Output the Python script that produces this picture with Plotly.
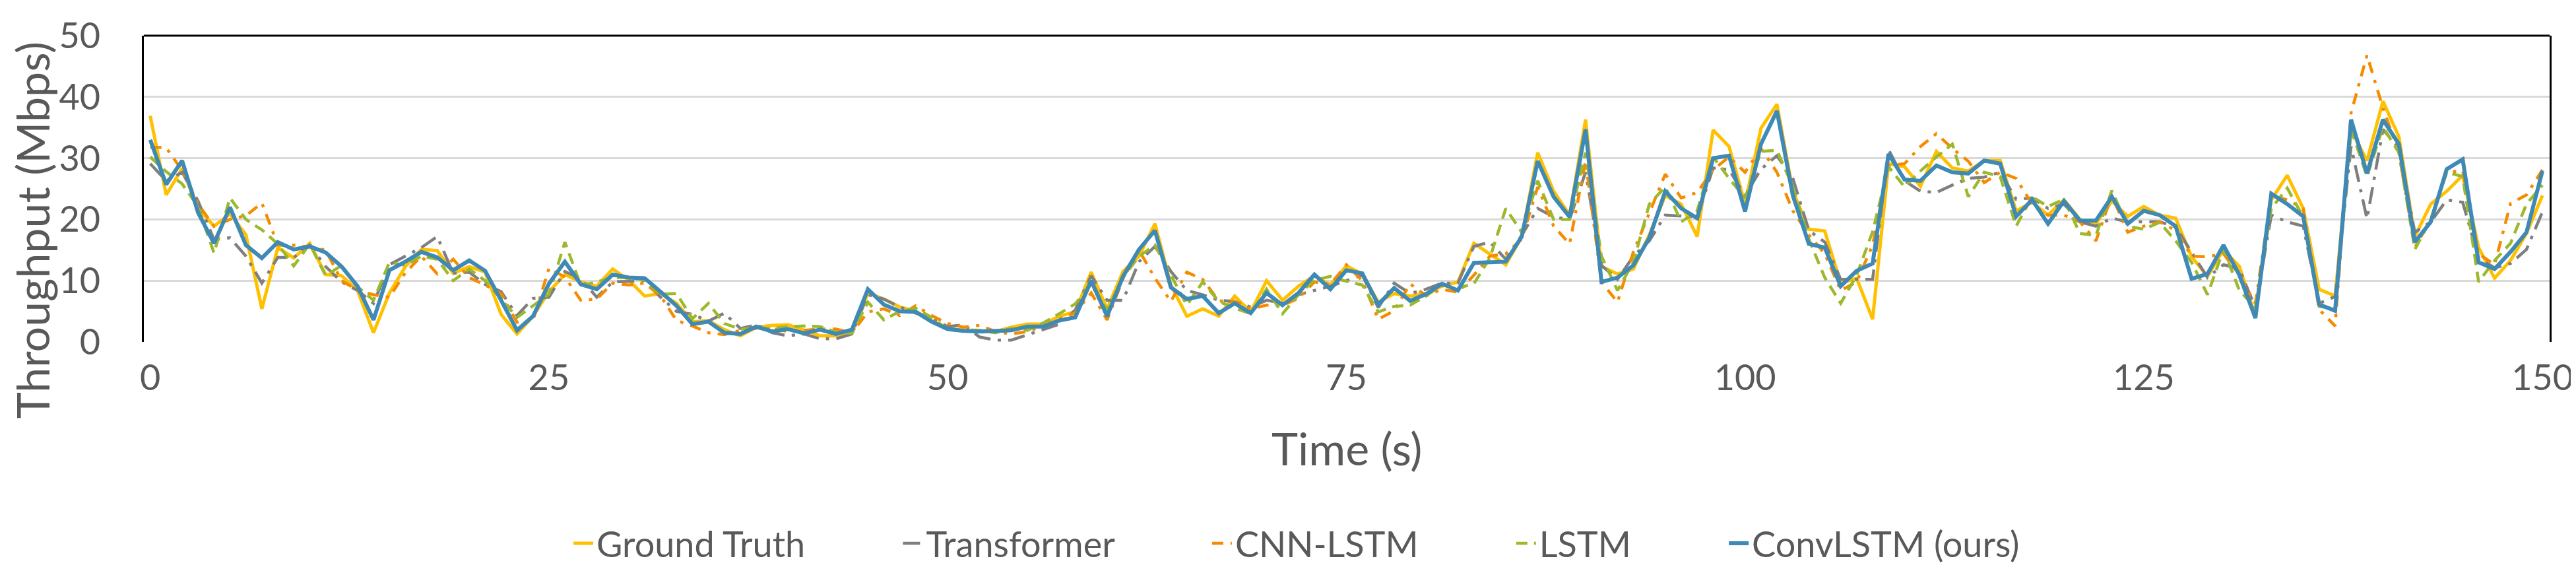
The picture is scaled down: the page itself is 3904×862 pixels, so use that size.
import plotly.graph_objects as go

time_s = list(range(151))

ground_truth = [
    36.9, 24.0, 28.3, 21.8, 18.9, 20.9, 17.5, 5.4, 15.4, 13.7,
    16.1, 11.0, 10.8, 8.4, 1.5, 8.0, 12.3, 15.1, 14.9, 11.2,
    12.3, 11.4, 4.5, 1.3, 4.2, 8.2, 11.0, 9.8, 9.1, 11.9,
    10.1, 7.5, 7.9, 6.3, 3.3, 3.5, 2.0, 1.0, 2.4, 2.7,
    2.8, 1.9, 1.0, 1.0, 1.5, 8.0, 7.0, 5.7, 5.0, 3.5,
    2.2, 1.9, 1.7, 1.7, 2.4, 2.9, 2.9, 4.2, 4.9, 11.4,
    5.4, 11.5, 14.0, 19.3, 9.3, 4.2, 5.4, 4.2, 7.5, 4.9,
    10.0, 6.8, 9.1, 10.8, 9.3, 12.4, 11.1, 6.5, 7.9, 7.5,
    7.9, 9.1, 9.8, 16.1, 14.4, 12.6, 17.2, 30.9, 24.6, 20.7,
    36.3, 12.3, 11.1, 11.9, 17.5, 23.9, 22.5, 17.2, 34.6, 31.9,
    22.5, 34.9, 38.8, 24.6, 18.4, 18.1, 9.6, 10.4, 3.7, 29.1,
    28.6, 25.4, 31.1, 28.4, 27.9, 29.6, 29.6, 21.4, 22.8, 20.7,
    23.2, 20.0, 19.3, 23.0, 20.5, 22.1, 20.7, 20.2, 13.9, 10.7,
    15.1, 12.3, 4.2, 23.2, 27.2, 21.8, 8.6, 7.5, 34.6, 29.6,
    39.3, 33.5, 17.2, 22.5, 24.6, 27.2, 15.4, 10.4, 13.3, 17.7,
    23.9,
]

transformer = [
    29.1, 26.3, 27.7, 23.0, 16.7, 17.0, 14.0, 9.6, 13.8, 13.8,
    15.8, 12.3, 9.8, 8.4, 6.3, 12.6, 14.0, 15.4, 17.2, 11.2,
    11.4, 9.4, 8.2, 4.3, 7.1, 7.3,
    11.5, 10.3, 7.3, 9.8, 9.9, 10.0, 7.3, 5.0, 4.5, 3.4,
    4.7, 2.2, 2.8, 1.5, 1.0, 1.3, 0.5, 0.5, 1.3, 7.7,
    7.0, 5.7, 4.7, 3.8, 2.5,
    2.8, 0.8, 0.3, 0.3, 1.2, 2.0, 2.9, 5.2, 10.8, 6.8,
    6.8, 13.1, 15.6, 11.5, 8.4, 7.7, 6.8, 6.6, 5.7, 6.8,
    6.3, 7.7, 8.4, 9.1, 10.0,
    10.9, 5.6, 9.6, 7.9, 8.6, 9.6, 9.6, 15.6, 16.3, 13.5,
    17.4, 21.8, 20.4, 20.0, 27.7, 12.5, 10.2, 14.0, 16.5, 20.7,
    20.5, 20.4, 28.4, 28.1, 23.9,
    28.2, 30.4, 26.7, 18.2, 16.3, 10.2, 10.2, 10.2, 31.4, 26.3,
    24.6, 24.4, 25.6, 26.7, 26.9, 27.7, 23.3, 23.5, 21.8, 22.5,
    19.6, 18.9, 20.2, 19.6, 19.6,
    19.6, 18.8, 14.7, 10.5, 12.6, 11.9, 5.6, 20.7, 19.6, 18.9,
    6.3, 7.4, 31.9, 20.1, 34.7, 31.6, 17.9, 19.6, 23.2, 22.8,
    13.7, 12.1, 12.8, 15.1, 21.2,
]

cnn_lstm = [
    31.8, 31.7, 28.0, 22.5, 18.9, 20.0, 20.6, 22.7, 15.8, 15.8,
    15.5, 15.0, 10.0, 8.4, 7.7, 7.3, 11.3, 14.0, 11.1, 13.5,
    10.5, 9.3, 7.9, 3.2, 3.5, 12.0,
    10.6, 6.8, 7.0, 9.6, 9.3, 9.6, 7.5, 3.5, 2.6, 1.5,
    1.2, 1.9, 2.2, 2.2, 1.7, 1.9, 2.1, 2.1, 1.5, 4.9,
    5.4, 4.3, 5.9, 4.3, 3.0,
    2.4, 2.7, 1.7, 1.3, 1.7, 2.6, 3.8, 4.7, 8.0, 3.6,
    10.3, 15.0, 10.4, 6.6, 11.4, 10.2, 6.7, 6.6, 5.4, 6.0,
    6.0, 7.1, 9.8, 9.4, 12.6,
    10.0, 3.7, 5.1, 9.5, 7.5, 8.6, 8.1, 10.9, 14.0, 14.4,
    16.8, 25.3, 18.9, 16.0, 29.5, 9.8, 6.5, 14.7, 21.1, 27.4,
    23.5, 24.4, 28.1, 30.2, 27.7,
    31.6, 27.7, 21.4, 17.5, 14.4, 8.4, 9.8, 15.8, 28.8, 29.1,
    31.9, 34.0, 31.6, 29.5, 26.0, 27.7, 26.7, 22.5, 20.7, 20.7,
    19.6, 16.5, 23.9, 17.9, 18.9,
    19.6, 18.2, 14.0, 13.9, 14.4, 10.9, 6.3, 23.9, 23.2, 21.8,
    5.3, 2.6, 37.4, 46.8, 38.2, 30.9, 15.4, 20.0, 27.7, 27.9,
    14.4, 12.6, 22.6, 24.0, 28.1,
]

lstm = [
    30.2, 27.8, 25.8, 22.1, 14.5, 23.5, 20.0, 18.3, 16.0, 12.4,
    16.0, 10.8, 12.5, 9.0, 6.8, 13.0, 12.5, 14.0, 13.5, 10.0,
    11.9, 10.0, 7.0, 4.0, 5.9, 7.8,
    16.3, 9.2, 9.8, 10.5, 10.5, 10.1, 7.8, 7.9, 3.8, 6.3,
    3.0, 2.1, 2.2, 2.2, 2.5, 2.6, 2.5, 1.6, 1.4, 6.5,
    3.6, 5.0, 5.5, 4.0, 2.0,
    2.0, 1.9, 1.5, 2.2, 1.9, 3.1, 4.6, 6.2, 9.4, 5.2,
    10.5, 14.0, 15.8, 10.8, 6.0, 9.8, 6.6, 5.5, 4.6, 8.6,
    4.6, 7.7, 10.1, 10.7, 9.9,
    9.3, 4.9, 5.8, 6.0, 7.5, 9.3, 8.8, 9.5, 13.7, 21.8,
    17.9, 26.3, 20.0, 20.0, 30.9, 14.0, 8.4, 13.0, 22.5, 25.3,
    19.6, 21.4, 30.2, 26.7, 23.5,
    31.1, 31.3, 25.3, 16.8, 10.5, 6.3, 10.9, 18.0, 28.6, 25.3,
    27.9, 30.2, 32.3, 23.7, 27.7, 27.0, 18.9, 23.7, 22.1, 23.3,
    17.7, 17.4, 24.7, 18.9, 18.4,
    19.5, 16.5, 13.0, 7.7, 15.1, 8.4, 5.6, 21.8, 25.1, 20.4,
    5.8, 5.4, 34.7, 27.0, 35.1, 30.9, 15.1, 20.0, 27.7, 27.0,
    9.8, 13.3, 16.1, 22.5, 25.6,
]

conv_lstm = [
    33.0, 25.7, 29.6, 21.1, 16.1, 22.0, 15.8, 13.7, 16.3, 15.1,
    15.6, 14.6, 12.3, 9.1, 3.6, 11.7, 13.1, 14.7, 13.8, 11.7,
    13.3, 11.6, 6.8, 1.9, 4.2, 9.5, 13.1, 9.4, 8.6, 11.0,
    10.5, 10.4, 8.2, 5.9, 2.9, 3.3, 1.5, 1.3, 2.5, 1.7,
    2.1, 1.4, 2.0, 1.3, 2.0, 8.6, 6.1, 5.0, 4.9, 3.3,
    2.1, 1.8, 1.7, 1.8, 1.9, 2.5, 2.5, 3.5, 4.0, 10.0,
    4.2, 10.7, 15.1, 18.2, 8.9, 7.0, 7.5, 4.7, 6.3, 4.7,
    8.0, 6.0, 8.0, 11.0, 8.6, 11.7, 11.2, 6.1, 8.8, 6.7,
    7.8, 9.5, 8.4, 12.9, 13.0, 13.1, 17.2, 29.5, 23.7, 20.4,
    34.7, 9.8, 10.5, 12.5, 17.0, 24.6, 21.8, 20.2, 30.0, 30.4,
    21.3, 32.3, 37.7, 23.9, 16.0, 15.4, 9.1, 11.6, 12.8, 30.7,
    26.5, 26.3, 28.8, 27.7, 27.5, 29.6, 29.1, 20.5, 23.2, 19.3,
    23.0, 19.8, 19.8, 23.7, 19.3, 21.4, 20.7, 18.9, 10.3, 11.1,
    15.8, 10.9, 3.9, 24.2, 22.5, 20.5, 6.1, 5.1, 36.3, 27.5,
    36.3, 32.3, 16.3, 19.6, 28.2, 29.8, 13.0, 11.9, 14.7, 17.9,
    27.9,
]

x_ticks = [0, 25, 50, 75, 100, 125, 150]
y_ticks = [0, 10, 20, 30, 40, 50]

series_names = ["Ground Truth", "Transformer", "CNN-LSTM", "LSTM", "ConvLSTM (ours)"]
series_values = [ground_truth, transformer, cnn_lstm, lstm, conv_lstm]
series_colors = ["#FFC000", "#7F7F7F", "#F68B00", "#9CB92B", "#3E89B6"]
series_dashes = ["solid", "26px,11px,5px,11px", "17px,11px,5px,11px", "17px,10px", "solid"]
series_widths = [5, 4.5, 4.5, 4.5, 6]

FONT = "Lato, 'Open Sans', sans-serif"
TXT = "#595959"
PAD = "\u00a0" * 10

fig = go.Figure()
for i, (name, vals, color, dash, w) in enumerate(
        zip(series_names, series_values, series_colors, series_dashes, series_widths)):
    label = name + (PAD if i < len(series_names) - 1 else "")
    fig.add_trace(go.Scatter(
        x=time_s[:len(vals)], y=vals, mode="lines", name=label,
        line=dict(color=color, width=w, dash=dash),
    ))

fig.update_layout(
    width=3904, height=862,
    margin=dict(l=210, r=42, t=35, b=352),
    paper_bgcolor="white", plot_bgcolor="white",
    font=dict(family=FONT, color=TXT, size=54),
    showlegend=True,
    legend=dict(
        orientation="h", xref="container", yref="container",
        x=0.5013, xanchor="center", y=0.054, yanchor="middle",
        font=dict(size=54, color=TXT, family=FONT),
        itemwidth=30, traceorder="normal",
    ),
    xaxis=dict(
        range=[-0.4, 150.45], tickvals=x_ticks, showgrid=False,
        zeroline=False, showline=False, ticks="",
        tickfont=dict(size=54, color=TXT), ticklabelstandoff=18,
    ),
    yaxis=dict(
        range=[0, 50], tickvals=y_ticks, showgrid=True,
        gridcolor="#D9D9D9", gridwidth=2.5, zeroline=False,
        showline=True, linecolor="black", linewidth=3, mirror=True,
        ticks="", tickfont=dict(size=54, color=TXT), ticklabelstandoff=52,
    ),
    shapes=[dict(type="line", xref="paper", yref="paper",
                 x0=0, x1=1, y0=1, y1=1,
                 line=dict(color="black", width=3))],
    annotations=[
        dict(text="Time (s)", xref="paper", yref="paper",
             x=0.5, y=-0.345, xanchor="center", yanchor="middle",
             showarrow=False, font=dict(size=68, color=TXT, family=FONT)),
        dict(text="Throughput (Mbps)", xref="paper", yref="paper",
             x=-0.0466, y=0.366, xanchor="center", yanchor="middle",
             textangle=-90, showarrow=False,
             font=dict(size=68, color=TXT, family=FONT)),
    ],
)

fig.write_html("out.html")
